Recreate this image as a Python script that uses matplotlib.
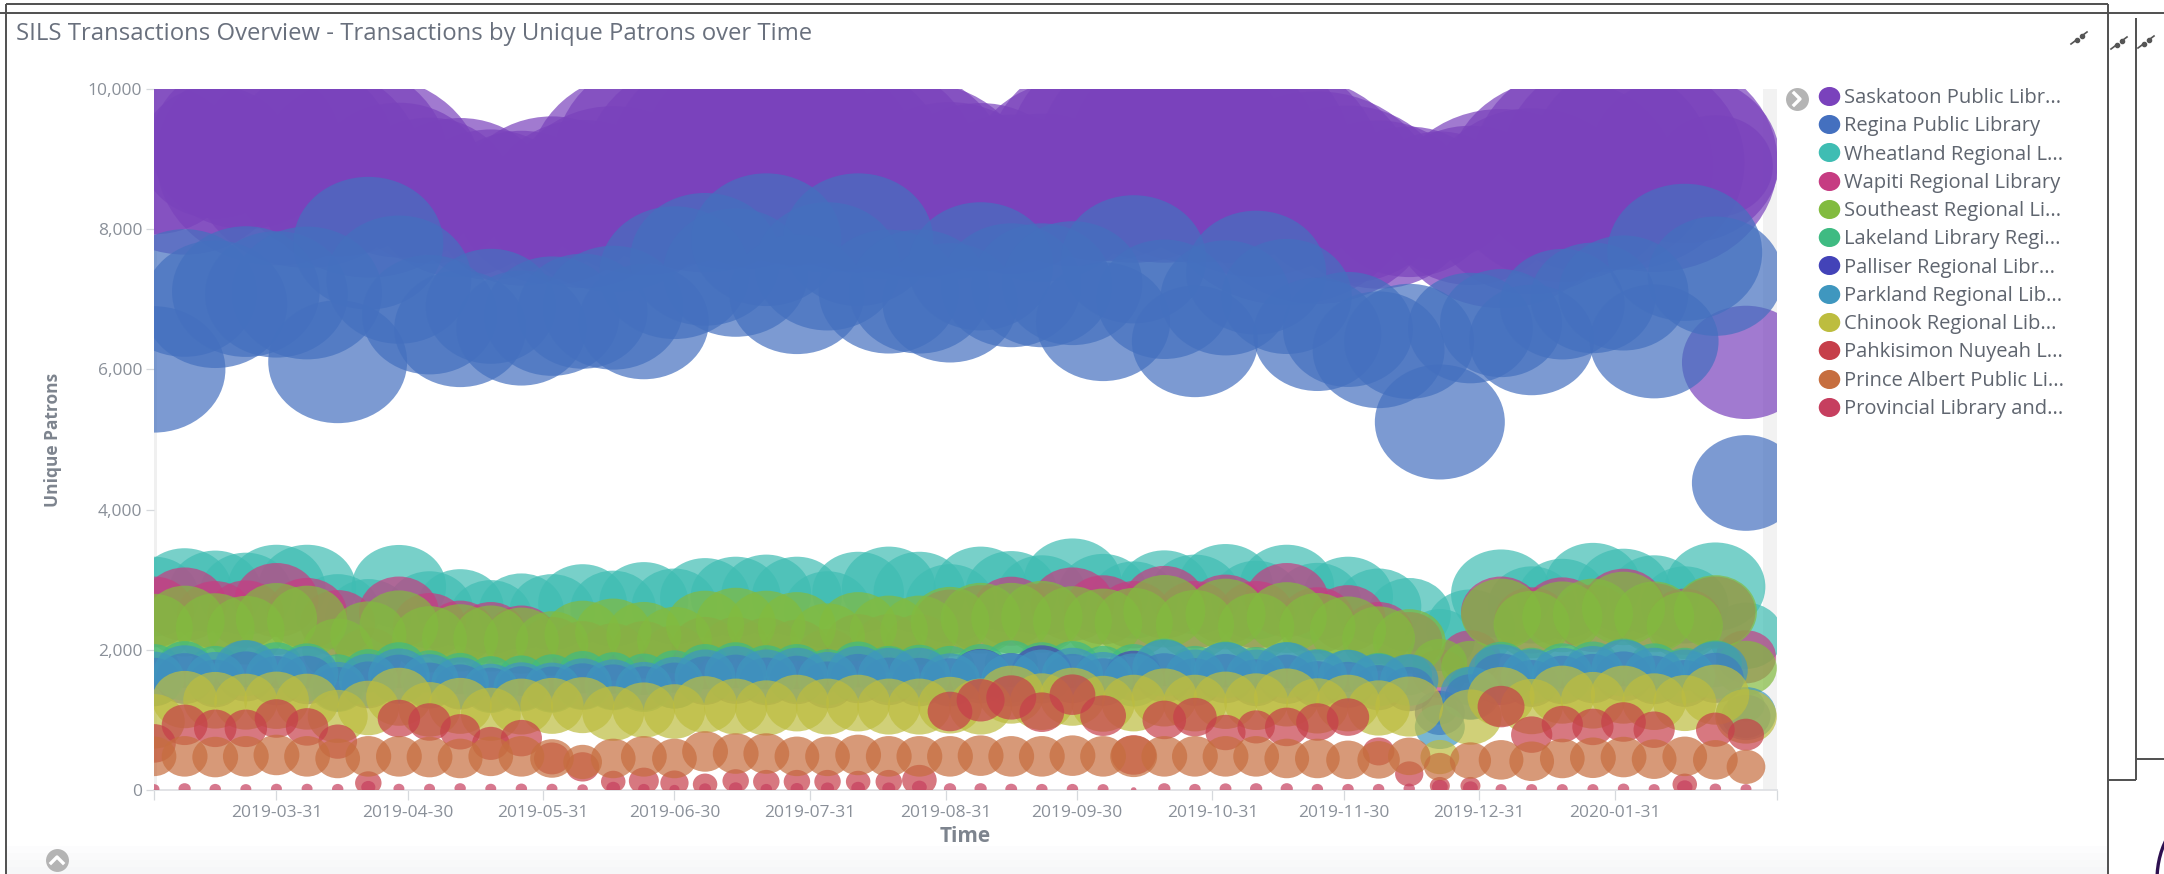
import pandas as pd
import matplotlib
matplotlib.use("Agg")
import matplotlib.pyplot as plt
from matplotlib.lines import Line2D
from matplotlib.patches import Ellipse, Rectangle
from matplotlib.path import Path
from matplotlib.transforms import Affine2D

plt.rcParams["font.family"] = ["Open Sans", "DejaVu Sans"]

# Weekly buckets, y = unique patrons, tx = transactions (bubble area)
dates = pd.date_range("2019-03-03", periods=53, freq="7D")

saskatoon_y = [9000,8900,9100,9200,9000,8900,9000,8750,8700,8550,8450,8350,8300,8410,8360,8430,8800,9000,8900,9000,9000,9000,8900,8900,8800,8700,8550,8600,8500,8450,8800,9000,9100,9100,9100,9100,8900,8560,8450,8500,8350,8390,8480,8340,8295,8400,8700,8900,8950,8950,9000,8900,6100]
saskatoon_tx = [28900,40000,22500,36100,57600,52900,48400,52000,30600,27200,32400,28900,30600,36100,36100,44100,52900,57600,57600,62500,62500,57600,57600,57600,57600,48400,40000,36100,32400,36100,44100,52900,62500,62500,62500,62500,62500,67600,57600,40000,36100,28900,21000,32400,50600,44100,52900,57600,58600,61000,36100,13200,16400]

regina_y = [6000,7090,6930,7110,7070,7090,6110,7800,7280,6780,6580,6900,6590,6760,6830,6880,6680,7380,7570,7380,7850,7070,7470,7850,7110,7110,6950,7470,7200,7200,7230,6680,7570,7000,6400,7020,7380,7040,6500,6570,6280,6400,5250,6590,6660,6420,6930,7020,7090,6400,7670,7330,4380]
regina_tx = [20400,20800,20800,21800,20400,22500,19300,22500,21000,18200,17400,16900,16900,18200,16900,19600,16900,22500,22500,21000,22500,18200,21000,22500,19600,19600,18200,21000,19600,19600,19600,18000,21000,18200,15900,16900,19600,16900,16400,16900,17400,16900,16900,15600,14900,15600,15600,15600,16900,16600,24000,18200,11700]

wheatland_y = [2760,2850,2830,2800,2880,2880,2540,2470,2900,2570,2600,2470,2550,2540,2660,2590,2690,2620,2740,2760,2790,2760,2570,2820,2880,2820,2660,2880,2830,2780,2970,2800,2710,2840,2790,2910,2710,2900,2690,2760,2620,2500,2140,2300,2800,2640,2730,2920,2850,2780,2640,2900,2200]
wheatland_tx = [8100,9000,8600,8600,9600,9600,7300,7300,8900,7600,7600,6900,7300,7300,7900,7300,7900,7300,8100,8100,8100,8100,7600,8400,8800,8400,7900,8800,8400,8100,9600,8100,7600,8400,8100,9000,7900,9000,7600,8100,7300,6900,4900,7900,10000,7600,8100,9200,8800,8100,7600,10000,5600]

wapiti_y = [2540,2650,2500,2510,2710,2520,2380,1900,2540,2350,2260,2240,2190,2050,2000,1970,2000,1950,2050,2050,2040,2020,1900,2090,2090,2090,2400,2450,2550,2470,2650,2570,2500,2680,2500,2580,2500,2710,2420,2450,2240,2120,1660,1900,2540,2420,2540,2450,2640,2470,2400,2540,1900]
wapiti_tx = [6400,6900,5800,5800,7000,6400,5600,4400,6400,5300,4900,4900,4900,4400,4200,4200,4200,4000,4400,4400,4400,4200,4000,4400,4400,4400,5300,5600,6100,5800,6900,6100,5800,6700,5800,6100,5800,7000,5600,5600,4900,4400,3000,3600,6400,5600,6100,5800,6700,5800,5600,6400,3600]

southeast_y = [2310,2410,2310,2280,2440,2410,2000,2210,2350,2150,2170,2160,2130,2090,2220,2250,2210,2140,2350,2380,2350,2330,2190,2330,2280,2280,2400,2450,2450,2470,2410,2380,2390,2550,2360,2510,2330,2460,2330,2280,2160,2120,1810,1760,2510,2360,2470,2510,2590,2470,2350,2540,1740]
southeast_tx = [6000,6400,6200,6000,6600,6400,5000,5800,6200,5600,5800,5600,5600,5300,5800,5800,5600,5600,6100,6400,6100,6100,5600,6100,6100,6100,6200,6400,6400,6600,6200,6100,6100,6700,6100,6400,5800,6400,5800,5800,5300,5300,3000,3400,6400,5800,6400,6400,6900,6400,5800,6900,3800]

lakeland_y = [1760,1790,1740,1800,1780,1770,1640,1700,1780,1690,1660,1620,1630,1640,1680,1670,1650,1690,1760,1780,1750,1760,1700,1790,1740,1750,1740,1760,1800,1780,1790,1740,1760,1820,1740,1790,1730,1780,1710,1700,1660,1640,1160,1480,1780,1720,1770,1790,1820,1770,1720,1800,1210]
lakeland_tx = [2600,2800,2500,2800,2700,2600,2200,2400,2700,2300,2200,2100,2100,2200,2300,2200,2200,2300,2600,2700,2500,2600,2400,2700,2500,2600,2500,2600,2800,2700,2800,2500,2600,2900,2500,2700,2400,2700,2300,2300,2200,2100,1300,1900,2800,2400,2600,2700,2900,2600,2400,2800,1400]

palliser_y = [1540,1590,1520,1620,1560,1570,1440,1500,1580,1490,1470,1430,1450,1440,1480,1470,1450,1490,1560,1580,1550,1570,1500,1590,1550,1540,1540,1650,1600,1680,1590,1540,1630,1600,1540,1590,1530,1580,1510,1500,1460,1440,1100,1330,1580,1520,1570,1590,1620,1570,1520,1600,1050]
palliser_tx = [3000,3300,2900,3200,3100,3000,2500,2800,3100,2700,2600,2500,2500,2600,2700,2600,2500,2700,3000,3100,2900,3000,2800,3100,2900,3000,2900,3300,3100,3700,3100,2900,3200,3100,2900,3100,2800,3100,2700,2700,2600,2500,2500,2600,3400,2800,3000,3100,3200,3000,2800,3200,2400]

parkland_y = [1590,1670,1590,1740,1630,1660,1470,1570,1630,1570,1530,1450,1470,1460,1510,1500,1470,1530,1620,1660,1620,1640,1590,1660,1640,1640,1570,1620,1570,1620,1640,1590,1570,1740,1620,1710,1620,1710,1620,1620,1570,1570,900,1380,1660,1620,1640,1660,1740,1640,1620,1710,1090]
parkland_tx = [3700,3900,3600,4000,3800,3900,3200,3500,3800,3400,3300,3100,3100,3200,3400,3300,3200,3400,3700,3900,3700,3800,3600,3900,3800,3800,3600,3700,3600,3700,3800,3600,3600,4100,3700,4000,3700,4000,3600,3600,3500,3400,2500,3600,4400,3800,3800,3900,4100,3800,3700,4200,3600]

chinook_y = [980,1290,1280,1260,1280,1260,1050,1170,1330,1150,1200,1080,1190,1200,1210,1090,1140,1120,1220,1190,1170,1240,1190,1240,1190,1190,1210,1190,1360,1260,1330,1230,1240,1320,1240,1280,1260,1320,1200,1240,1170,1190,470,1040,1330,1190,1360,1280,1360,1260,1240,1360,1050]
chinook_tx = [3800,4200,4100,4000,4200,4000,3600,3800,4300,3800,4000,3600,4000,4000,4000,3800,3900,3800,4100,4000,3900,4100,4000,4100,4000,4000,4100,4000,4300,4100,4300,4000,4100,4300,4100,4200,4100,4300,3900,4100,3900,4600,1500,3900,4500,3900,4300,4100,4300,4100,4000,4600,3800]

pahkisimon_y = [665,930,880,880,1020,900,690,100,1020,970,830,665,740,450,330,120,130,100,80,130,120,120,120,120,120,140,1120,1280,1320,1110,1360,1060,500,1000,1040,820,900,900,970,1040,550,230,60,60,1190,790,940,900,970,860,80,860,790]
pahkisimon_tx = [1900,2100,1800,1800,1900,1800,1500,700,1800,1800,1600,1400,1700,1300,1100,600,900,800,600,700,700,700,700,600,700,1200,2000,2300,2500,2000,2100,2100,2000,1900,1900,1600,1400,1900,1800,1800,1000,800,400,400,2200,1700,1700,1700,2000,1700,600,1500,1300]

prince_albert_y = [480,480,470,480,500,480,450,480,480,470,450,480,480,450,400,450,480,450,550,520,520,480,480,500,480,480,480,490,480,480,490,480,480,480,480,480,480,450,450,430,430,480,330,420,430,410,450,460,470,440,480,430,330]
prince_albert_tx = [2000,2100,2100,2100,2100,2100,2000,2100,2100,2100,2000,2000,2100,1900,1500,2000,2100,2000,2100,2100,2100,2000,2000,2100,2100,2100,2100,2100,2100,2100,2100,2100,2200,2100,2100,2100,2100,2000,2000,1900,1800,1800,1000,1700,2000,2000,2000,2100,2100,2000,2000,2000,1500]

provincial_y = [15,20,15,15,20,20,15,40,20,20,25,20,20,20,15,30,15,10,20,25,15,20,25,30,25,40,20,20,15,15,15,15,5,20,15,20,20,20,15,15,15,20,45,30,15,15,15,15,20,15,40,20,15]
provincial_tx = [120,150,130,120,120,120,130,200,120,120,130,120,130,120,110,190,130,100,140,180,130,160,170,190,170,220,150,150,140,130,130,120,30,150,130,140,150,150,130,130,130,130,250,220,120,120,120,120,130,120,240,130,120]

series_names = ["Saskatoon Public Libr...", "Regina Public Library", "Wheatland Regional L...",
                "Wapiti Regional Library", "Southeast Regional Li...", "Lakeland Library Regi...",
                "Palliser Regional Libr...", "Parkland Regional Lib...", "Chinook Regional Lib...",
                "Pahkisimon Nuyeah L...", "Prince Albert Public Li...", "Provincial Library and..."]
series_y = [saskatoon_y, regina_y, wheatland_y, wapiti_y, southeast_y, lakeland_y,
            palliser_y, parkland_y, chinook_y, pahkisimon_y, prince_albert_y, provincial_y]
series_tx = [saskatoon_tx, regina_tx, wheatland_tx, wapiti_tx, southeast_tx, lakeland_tx,
             palliser_tx, parkland_tx, chinook_tx, pahkisimon_tx, prince_albert_tx, provincial_tx]
colors = ["#7A42BC", "#4470BF", "#3FBDB3", "#C63C82", "#82BB3F", "#3FBB82",
          "#4343B8", "#3F97BF", "#BDBD3F", "#C63F4A", "#C66E3F", "#C63F5F"]

x_tick_labels = ["2019-03-31", "2019-04-30", "2019-05-31", "2019-06-30", "2019-07-31", "2019-08-31",
                 "2019-09-30", "2019-10-31", "2019-11-30", "2019-12-31", "2020-01-31"]
y_ticks = [0, 2000, 4000, 6000, 8000, 10000]

W, H = 2164, 874
fig = plt.figure(figsize=(W / 100, H / 100), dpi=100, facecolor="white")

# Page furniture drawn in pixel coordinates
bg = fig.add_axes([0, 0, 1, 1])
bg.set_xlim(0, W)
bg.set_ylim(H, 0)
bg.axis("off")
frame = "#505050"
for xs, ys in [((6, 2108), (4, 4)), ((0, 2164), (13, 13)), ((6, 6), (4, 874)), ((2108, 2108), (4, 874)),
               ((2136, 2136), (18, 780)), ((2108, 2136), (780, 780)), ((2136, 2164), (759, 759))]:
    bg.plot(xs, ys, color=frame, lw=1.4, solid_capstyle="butt")
for i, alpha in enumerate([0.25, 0.5, 0.75, 1.0]):
    bg.add_patch(Rectangle((7, 846 + i * 7), 2100, 7, color="#f6f7f8", alpha=alpha, lw=0))
bg.add_patch(Ellipse((2200, 880), 86, 130, fill=False, edgecolor="#2E1050", lw=2.4))


def shrink_icon(cx, cy):
    for sx, sy in [(-1, 1), (1, -1)]:
        bg.plot([cx + sx * 8, cx + sx * 2], [cy + sy * 6, cy + sy * 1.5], color="#555555", lw=1.2)
        bg.plot(cx + sx * 2.5, cy + sy * 2, marker="o", ms=3, color="#555555")


for cx, cy in [(2079, 38), (2119, 43), (2146, 42)]:
    shrink_icon(cx, cy)

bg.plot(1797, 99, marker="o", ms=16.5, mew=0, color="#b4b4b4")
bg.plot([1794, 1800, 1794], [93, 99, 105], color="white", lw=2.4)
bg.plot(57, 860, marker="o", ms=16.5, mew=0, color="#b4b4b4")
bg.plot([51, 57, 63], [863, 857, 863], color="white", lw=2.4)

# Chart
left, right, top, bottom = 154, 1776.6, 89, 790
ax = fig.add_axes([left / W, 1 - bottom / H, (right - left) / W, (bottom - top) / H])
ax.patch.set_alpha(0)

ax.axvspan(pd.Timestamp("2019-03-03"), pd.Timestamp("2019-03-03 18:00"), color="#f0f0f0", lw=0, zorder=0)
ax.axvspan(pd.Timestamp("2020-03-05"), pd.Timestamp("2020-03-08"), color="#f2f2f2", lw=0, zorder=0)

# Kibana bubbles come out a bit wider than tall in this screenshot
bubble = Path.unit_circle().transformed(Affine2D().scale(1.13, 1))
px_to_pt = (72 / 100) ** 2

for i, (name, y, tx, c) in enumerate(zip(series_names, series_y, series_tx, colors)):
    ax.scatter(dates, y, s=[v * px_to_pt for v in tx], marker=bubble, color=c, alpha=0.7,
               linewidths=0, zorder=2 + i, label=name)

ax.set_xlim(pd.Timestamp("2019-03-03"), pd.Timestamp("2020-03-08"))
ax.set_ylim(0, 10000)
ax.set_yticks(y_ticks, [f"{v:,}" for v in y_ticks])
ax.set_xticks(pd.to_datetime(x_tick_labels), x_tick_labels)
ax.set_xticks([pd.Timestamp("2019-03-03"), pd.Timestamp("2020-03-08")], minor=True)

for s in ["top", "right", "left"]:
    ax.spines[s].set_visible(False)
ax.spines["bottom"].set_color("#dfe1e4")
ax.spines["bottom"].set_linewidth(1.3)

ax.tick_params(axis="x", which="both", length=7, width=0.9, color="#d6d9dd", labelcolor="#8a9099", labelsize=12.5, pad=4)
ax.tick_params(axis="y", length=5.5, width=0.9, color="#d6d9dd", labelcolor="#8a9099", labelsize=12.5, pad=3)

ax.set_ylabel("Unique Patrons", fontsize=12.5, fontweight="bold", color="#7d848e", va="center")
ax.yaxis.set_label_coords((53 - left) / (right - left), 0.5)
ax.set_xlabel("Time", fontsize=15, fontweight="bold", color="#7d848e", va="center")
ax.xaxis.set_label_coords(0.5, -(836 - bottom) / (bottom - top))

fig.text(16 / W, 1 - 34 / H, "SILS Transactions Overview - Transactions by Unique Patrons over Time",
         fontsize=17.2, color="#69707d", va="center", ha="left")

handles = [Line2D([], [], linestyle="none", marker=bubble, ms=15.5, mew=0, color=c) for c in colors]
fig.legend(handles, series_names, loc="upper left", bbox_to_anchor=(1818 / W, 1 - 88 / H),
           frameon=False, fontsize=14.5, labelcolor="#5f656f", labelspacing=0.41,
           handletextpad=0.19, handlelength=1.1, borderpad=0, borderaxespad=0)

fig.savefig("out.png", dpi=100)
